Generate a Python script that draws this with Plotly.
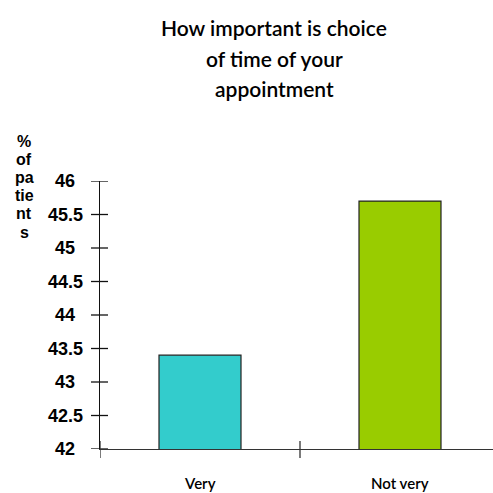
import plotly.graph_objects as go

# Survey data
categories = ["Very", "Not very"]
values = [43.4, 45.7]
bar_colors = ["#33CCCC", "#99CC00"]

y_ticks = [42, 42.5, 43, 43.5, 44, 44.5, 45, 45.5, 46]
y_tick_labels = ["42", "42.5", "43", "43.5", "44", "44.5", "45", "45.5", "46"]
title_lines = ["How important is choice", "of time of your", "appointment"]
y_title_lines = ["%", "of", "pa", "tie", "nt", "s"]

W, H = 493, 493
M_L, M_R, M_T, M_B = 100, 0, 181, 44
plot_w = W - M_L - M_R
plot_h = H - M_T - M_B
cat_px = 200  # pixels per category slot

fig = go.Figure()
fig.add_trace(go.Bar(
    x=categories, y=values,
    marker=dict(color=bar_colors, line=dict(color="#222222", width=1.2)),
    width=0.41,
))

x_hi = -0.5 + plot_w / cat_px
fig.update_layout(
    width=W, height=H,
    margin=dict(l=M_L, r=M_R, t=M_T, b=M_B),
    paper_bgcolor="white", plot_bgcolor="white",
    showlegend=False,
    xaxis=dict(range=[-0.5, x_hi], showgrid=False, zeroline=False,
               showline=True, linecolor="#333333", linewidth=1.3,
               showticklabels=False, ticks=""),
    yaxis=dict(range=[42, 46], showgrid=False, zeroline=False,
               showline=True, linecolor="#111111", linewidth=1.3,
               showticklabels=False, ticks="", tickvals=y_ticks),
)

shapes = []
annotations = []
px_x = lambda px: (px - M_L) / plot_w

# y-axis ticks crossing the axis line, with centred labels
for v, lab in zip(y_ticks, y_tick_labels):
    shapes.append(dict(type="line", xref="paper", yref="y",
                       x0=px_x(91), x1=px_x(108), y0=v, y1=v,
                       line=dict(color="#111111", width=1.3)))
    annotations.append(dict(text=lab, xref="paper", yref="y", x=px_x(65), y=v,
                            xanchor="center", yanchor="middle", showarrow=False,
                            font=dict(family="Liberation Sans, Arial", size=18,
                                      color="black", weight="bold")))

# x-axis ticks at category boundaries, crossing the axis line
n_bounds = int(x_hi + 0.5) + 1
for b in range(n_bounds):
    xb = b - 0.5
    if xb > x_hi:
        break
    shapes.append(dict(type="line", xref="x", yref="paper",
                       x0=xb, x1=xb, y0=8 / plot_h, y1=-9 / plot_h,
                       line=dict(color="#333333", width=1.3)))

# category labels
for i, c in enumerate(categories):
    annotations.append(dict(text=c, xref="x", yref="paper", x=i, y=0,
                            xanchor="center", yanchor="middle", yshift=-34,
                            showarrow=False,
                            font=dict(family="Lato, Noto Sans", size=15,
                                      color="black", weight=600)))

# chart title, one line per annotation
for ypix, line in zip([27, 58, 88], title_lines):
    annotations.append(dict(text=line, xref="paper", yref="paper",
                            x=px_x(274), y=1, yshift=M_T - ypix,
                            xanchor="center", yanchor="middle", showarrow=False,
                            font=dict(family="Lato, Noto Sans", size=21,
                                      color="black", weight=600)))

# stacked y-axis title
for k, line in enumerate(y_title_lines):
    ypix = 141 + k * 18.2
    annotations.append(dict(text=line, xref="paper", yref="paper",
                            x=px_x(24), y=1, yshift=M_T - ypix,
                            xanchor="center", yanchor="middle", showarrow=False,
                            font=dict(family="Liberation Sans, Arial", size=16,
                                      color="black", weight="bold")))

fig.update_layout(shapes=shapes, annotations=annotations)
fig.write_html("out.html")
